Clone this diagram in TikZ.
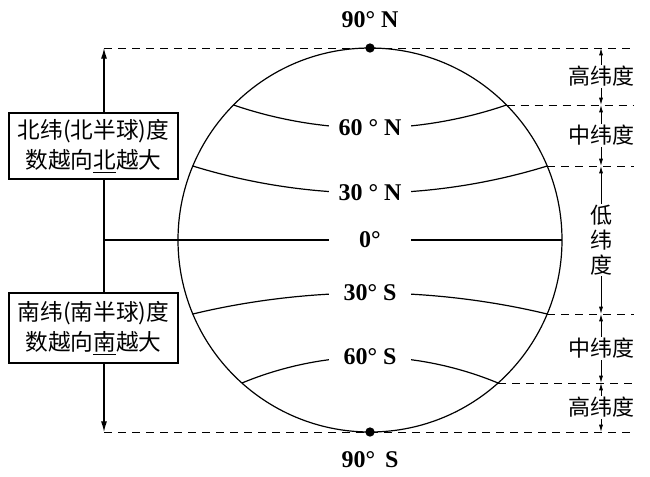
\documentclass[tikz,border=0pt]{standalone}
\usepackage{fontspec}
\setmainfont{Liberation Serif}
\newfontfamily\cjk{Noto Sans CJK SC}
\usetikzlibrary{%
    arrows.meta,
    calc,
    positioning
}
\tikzset{axisarrow/.style = {{Latex[length=8pt,width=4.5pt]}-{Latex[length=8pt,width=4.5pt]}}}
\tikzset{zonearrow/.style = {{Latex[length=5.5pt,width=3pt]}-{Latex[length=5.5pt,width=3pt]}, line width=.6pt}}
\tikzset{guide/.style = {dash pattern=on 6pt off 4.5pt, line width=.75pt}}
\tikzset{latlabel/.style = {font=\fontsize{18}{18}\selectfont\bfseries, fill=white, minimum width=62pt, inner sep=1pt}}
\tikzset{zonelabel/.style = {font=\cjk\fontsize{16.5}{18.75}\selectfont, fill=white, align=center, inner sep=1pt}}
\tikzset{notebox/.style = {draw, fill=white, align=center, minimum width=126.75pt, inner sep=2pt, font=\cjk\fontsize{17}{23}\selectfont}}
\tikzset{pole/.style = {circle, fill, inner sep=0pt, minimum size=7pt}}

\begin{document}
\begin{tikzpicture}[x=.75pt, y=-.75pt, line width=.9pt]
    \useasboundingbox (0,0) rectangle (650,476);
    \coordinate (O) at (370,240);
    \coordinate (gend) at (634,0);
    \coordinate (ltop) at (104,48);
    \coordinate (lbot) at (104,432);
    \draw (O) circle [radius=144pt];

    % left axis and the two pole lines
    \draw[axisarrow] (ltop) -- (lbot);
    \draw[guide] (ltop) -- (ltop -| gend);
    \draw[guide] (lbot) -- (lbot -| gend);
    \node[pole] (np) at (370,48) {};
    \node[pole] (sp) at (370,432) {};
    \node[latlabel] (tnp) at (370,20) {90° N};
    \node[latlabel] (tsp) at (370,460) {90°\, S};

    % equator
    \coordinate (eqL) at (104,240);
    \coordinate (eqR) at (562,240);
    \draw (eqL) -- (eqR);
    \node[latlabel] (t0) at (O) {0°};

    % parallels
    \foreach \lat/\ya/\xa/\yb/\Label in {%
        60n/105/136.5/128/{60 ° N},
        30n/166/177.2/193/{30 ° N},
        30s/314/177.2/293/{30° S},
        60s/383/128.1/357/{60° S}%
        }{
        \coordinate (l\lat) at (370-\xa,\ya);
        \coordinate (r\lat) at (370+\xa,\ya);
        \coordinate (m\lat) at (370,\yb);
        \draw (l\lat) parabola bend (m\lat) (r\lat);
        \node[latlabel] (t\lat) at (m\lat) {\Label};
        \draw[guide] (r\lat) -- (r\lat -| gend);
    }

    % zones on the right
    \foreach \y in {48,105,166,314,383,432}
        \coordinate (z\y) at (601,\y);
    \foreach \y/\Label [remember=\y as \lasty (initially 48)] in {%
        105/高纬度,
        166/中纬度,
        314/{低\\纬\\度},
        383/中纬度,
        432/高纬度%
        }
    \draw[zonearrow] (z\lasty) -- node[zonelabel] {\Label} (z\y);

    % notes on the left
    \node[notebox, minimum height=49.5pt] (nbox) at (93.5,146) {北纬(北半球)度\\数越向\underline{北}越大};
    \node[notebox, minimum height=52.5pt] (sbox) at (93.5,328) {南纬(南半球)度\\数越向\underline{南}越大};
\end{tikzpicture}
\end{document}
